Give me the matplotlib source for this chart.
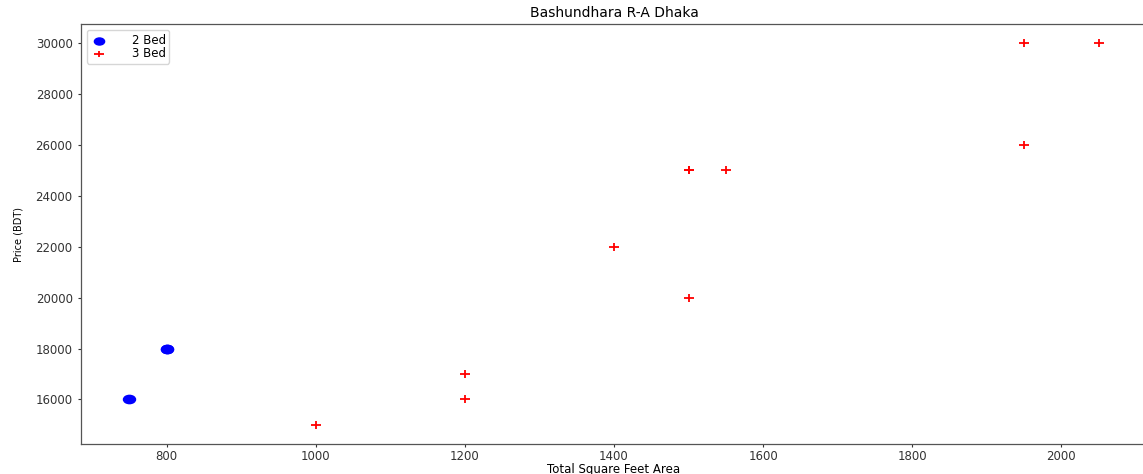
import matplotlib.pyplot as plt
from matplotlib.path import Path
from matplotlib.transforms import Affine2D

# 2 bedroom listings
bhk2_sqft = [750, 800, 800]
bhk2_price = [16000, 18000, 18000]

# 3 bedroom listings
bhk3_sqft = [1000, 1200, 1200, 1400, 1500, 1500, 1500, 1550, 1950, 1950, 2050]
bhk3_price = [15000, 16000, 17000, 22000, 20000, 25000, 25000, 25000, 26000, 30000, 30000]

# slightly wide markers
wide = Affine2D().scale(1.45, 1.0)
dot = Path.unit_circle().transformed(wide)
plus = Path([(-1, 0), (1, 0), (0, -1), (0, 1)],
            [Path.MOVETO, Path.LINETO, Path.MOVETO, Path.LINETO]).transformed(wide)

fig = plt.figure(figsize=(11.43, 4.74), dpi=100)
ax = fig.add_axes([0.0709, 0.0633, 0.9326, 0.8857])

ax.scatter(bhk2_sqft, bhk2_price, marker=dot, color='blue', label='2 Bed', s=75)
ax.scatter(bhk3_sqft, bhk3_price, marker=plus, color='red', label='3 Bed', s=62, linewidths=1.3)

ax.set_title("Bashundhara R-A Dhaka", fontsize=10, pad=5)
ax.set_xlabel("Total Square Feet Area", fontsize=8.5, labelpad=0)
ax.set_ylabel("Price (BDT)", fontsize=7, labelpad=9)
ax.tick_params(labelsize=8.5, length=2.5, width=0.8, colors='#333333')
ax.tick_params(axis='x', pad=1.5)
for sp in ax.spines.values():
    sp.set_color('#555555')
    sp.set_linewidth(0.9)
ax.legend(loc='upper left', fontsize=8.5, handletextpad=2.0, borderpad=0.3,
          labelspacing=0.05, handlelength=1.5, markerscale=0.85)

fig.savefig("out.png", dpi=100)
